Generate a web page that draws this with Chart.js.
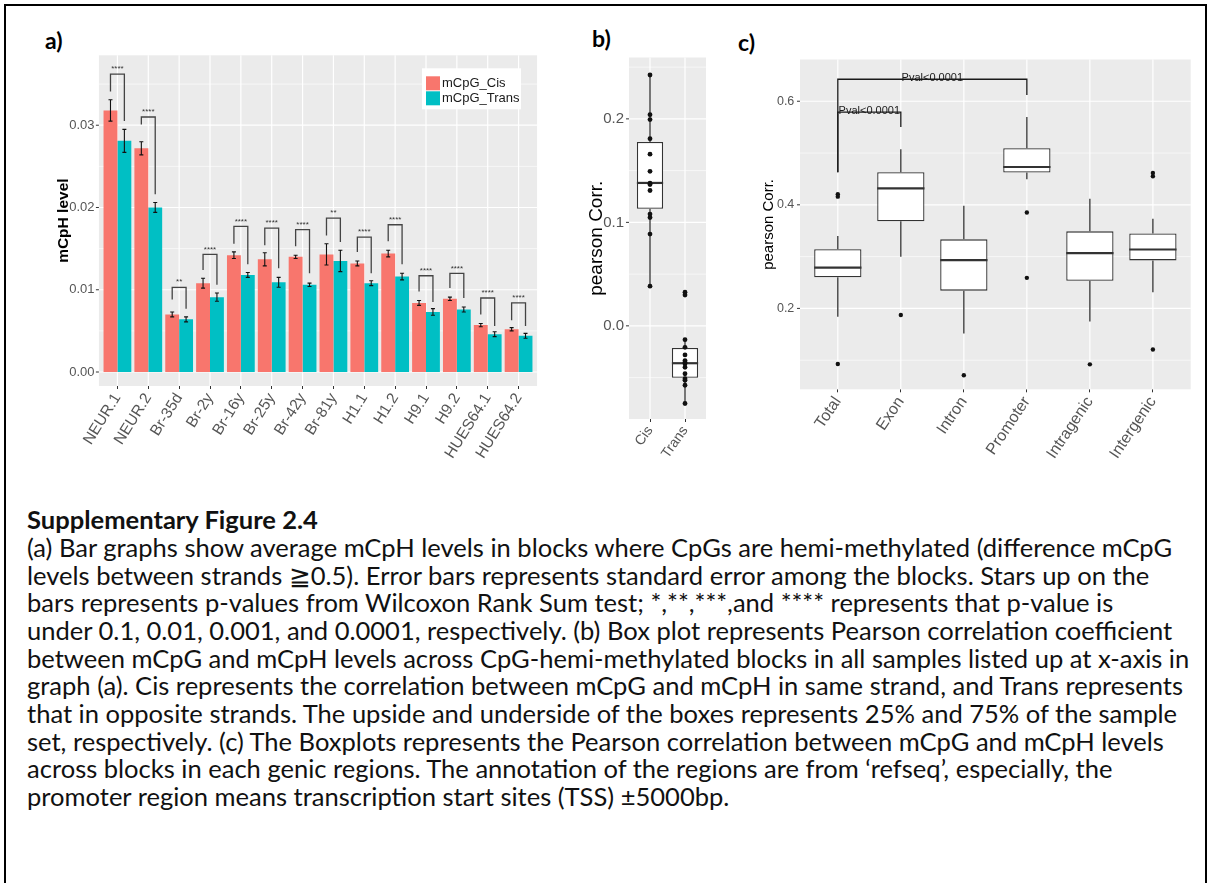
<!DOCTYPE html>
<html>
<head>
<meta charset="utf-8">
<title>Supplementary Figure 2.4</title>
<script src="https://cdn.jsdelivr.net/npm/chart.js@4.4.0/dist/chart.umd.min.js"></script>
<style>
  html, body { margin: 0; padding: 0; background: #fff; overflow: hidden; }
  #page { position: relative; width: 1212px; height: 883px; overflow: hidden; background: #fff; }
  .rule { position: absolute; background: #000; }
  canvas { position: absolute; }
  .tag { position: absolute; font: bold 23px Lato, sans-serif; color: #000; line-height: 1; }
  .cap { position: absolute; left: 27px; white-space: nowrap; font-family: Lato, sans-serif; color: #111; }
</style>
</head>
<body>
<div id="page">
  <div class="rule" style="left:4px; top:4px; width:1203px; height:2px;"></div>
  <div class="rule" style="left:4px; top:4px; width:2px; height:879px;"></div>
  <div class="rule" style="left:1205px; top:4px; width:2px; height:879px;"></div>
  <div class="tag" style="left:45px; top:29px;">a)</div>
  <div class="tag" style="left:592px; top:27px;">b)</div>
  <div class="tag" style="left:738px; top:31px;">c)</div>
  <canvas id="barChart" width="520" height="445" style="left:40px; top:40px;"></canvas>
  <canvas id="strandChart" width="145" height="440" style="left:575px; top:40px;"></canvas>
  <canvas id="regionChart" width="460" height="445" style="left:745px; top:40px;"></canvas>
  <div id="caption"></div>
</div>
<script>
// (a) mean mCpH level per sample, with standard errors
var samples = ['NEUR.1', 'NEUR.2', 'Br-35d', 'Br-2y', 'Br-16y', 'Br-25y', 'Br-42y', 'Br-81y', 'H1.1', 'H1.2', 'H9.1', 'H9.2', 'HUES64.1', 'HUES64.2'];
var cisMean = [0.0318, 0.0272, 0.0070, 0.0108, 0.0142, 0.0137, 0.0140, 0.0143, 0.0132, 0.0144, 0.0084, 0.0089, 0.0057, 0.0052];
var cisSE = [0.0013, 0.0008, 0.0003, 0.0006, 0.0004, 0.0008, 0.0002, 0.0013, 0.0003, 0.0004, 0.0003, 0.0002, 0.0002, 0.0002];
var transMean = [0.0281, 0.0200, 0.0064, 0.0091, 0.0118, 0.0109, 0.0106, 0.0135, 0.0108, 0.0116, 0.0073, 0.0076, 0.0046, 0.0044];
var transSE = [0.0014, 0.0006, 0.0003, 0.0005, 0.0003, 0.0006, 0.0002, 0.0013, 0.0003, 0.0004, 0.0004, 0.0003, 0.0003, 0.0003];
// significance brackets: stars, bracket height, left and right leg ends
var sigStars = ['****', '****', '**', '****', '****', '****', '****', '**', '****', '****', '****', '****', '****', '****'];
var sigTop = [0.0362, 0.0310, 0.0103, 0.0143, 0.0177, 0.0175, 0.0173, 0.0187, 0.0164, 0.0179, 0.0117, 0.0120, 0.0090, 0.0084];
var sigLeftEnd = [0.0341, 0.0301, 0.0088, 0.0124, 0.0156, 0.0154, 0.0153, 0.0166, 0.0146, 0.0159, 0.0098, 0.0102, 0.0070, 0.0063];
var sigRightEnd = [0.0305, 0.0216, 0.0077, 0.0106, 0.0131, 0.0126, 0.0120, 0.0158, 0.0120, 0.0131, 0.0085, 0.0090, 0.0056, 0.0056];
var levelBreaks = [0, 0.01, 0.02, 0.03];
var levelMinor = [0.005, 0.015, 0.025, 0.035];

// (b) pearson correlation per sample, same strand vs opposite strand
var strands = ['Cis', 'Trans'];
var strandLow = [0.0383, -0.0749];
var strandQ1 = [0.1132, -0.0501];
var strandMedian = [0.1381, -0.0361];
var strandQ3 = [0.1777, -0.0213];
var strandHigh = [0.2424, -0.0134];
var cisCorr = [0.2424, 0.2041, 0.1993, 0.1809, 0.1659, 0.1493, 0.1378, 0.1365, 0.1308, 0.1080, 0.1047, 0.0887, 0.0383];
var transCorr = [0.0325, 0.0298, -0.0134, -0.0207, -0.0281, -0.0335, -0.0351, -0.0367, -0.0400, -0.0463, -0.0511, -0.0526, -0.0574, -0.0750];
var strandBreaks = [0.0, 0.1, 0.2];
var strandMinor = [-0.05, 0.05, 0.15, 0.25];

// (c) pearson correlation per genic region
var regions = ['Total', 'Exon', 'Intron', 'Promoter', 'Intragenic', 'Intergenic'];
var regionLow = [0.184, 0.2996, 0.1516, 0.4495, 0.1745, 0.2311];
var regionQ1 = [0.2602, 0.3682, 0.2343, 0.4622, 0.2533, 0.2927];
var regionMedian = [0.2787, 0.4317, 0.2933, 0.4730, 0.3067, 0.3137];
var regionQ3 = [0.3143, 0.4629, 0.3333, 0.5092, 0.3488, 0.3448];
var regionHigh = [0.3396, 0.5074, 0.3981, 0.5695, 0.4116, 0.3733];
var regionOutliers = [[0.4203, 0.4158, 0.0926], [0.1872], [0.0710], [0.3853, 0.2590], [0.0920], [0.4616, 0.4552, 0.1206]];
var pvalPairs = [['Total', 'Exon'], ['Total', 'Promoter']];
var pvalTop = [0.579, 0.6425];
var pvalLeftEnd = [0.463, 0.463];
var pvalRightEnd = [0.5505, 0.612];
var pvalText = ['Pval<0.0001', 'Pval<0.0001'];
var regionBreaks = [0.2, 0.4, 0.6];
var regionMinor = [0.1, 0.3, 0.5];

var captionHead = 'Supplementary Figure 2.4';
var captionLines = [
    '(a) Bar graphs show average mCpH levels in blocks where CpGs are hemi-methylated (difference mCpG',
    'levels between strands \u22670.5). Error bars represents standard error among the blocks. Stars up on the',
    'bars represents p-values from Wilcoxon Rank Sum test; *,**,***,and **** represents that p-value is',
    'under 0.1, 0.01, 0.001, and 0.0001, respectively. (b) Box plot represents Pearson correlation coefficient',
    'between mCpG and mCpH levels across CpG-hemi-methylated blocks in all samples listed up at x-axis in',
    'graph (a). Cis represents the correlation between mCpG and mCpH in same strand, and Trans represents',
    'that in opposite strands. The upside and underside of the boxes represents 25% and 75% of the sample',
    'set, respectively. (c) The Boxplots represents the Pearson correlation between mCpG and mCpH levels',
    'across blocks in each genic regions. The annotation of the regions are from \u2018refseq\u2019, especially, the',
    'promoter region means transcription start sites (TSS) \u00b15000bp.'
];

var FONT = "'Liberation Sans', Arial, sans-serif";
Chart.defaults.font.family = FONT;
Chart.defaults.animation = false;
Chart.defaults.events = [];
Chart.defaults.plugins.legend.display = false;
Chart.defaults.plugins.tooltip.enabled = false;

// grey panel with white grid, ggplot style; the panel reaches 0.6 of a category past the outer ones
function ggPanel(minorBreaks) {
    return {
        id: 'ggPanel',
        beforeDatasetsDraw: function (chart) {
            var ctx = chart.ctx, area = chart.chartArea, x = chart.scales.x, y = chart.scales.y;
            var ext = 0.1 * (x.getPixelForValue(1) - x.getPixelForValue(0));
            var left = area.left - ext, right = area.right + ext;
            function hline(py) { ctx.beginPath(); ctx.moveTo(left, py); ctx.lineTo(right, py); ctx.stroke(); }
            ctx.save();
            ctx.fillStyle = '#EBEBEB';
            ctx.fillRect(left, area.top, right - left, area.bottom - area.top);
            ctx.strokeStyle = '#FFFFFF';
            ctx.lineWidth = 0.6;
            minorBreaks.forEach(function (v) { hline(y.getPixelForValue(v)); });
            ctx.lineWidth = 1.2;
            y.ticks.forEach(function (t) { hline(y.getPixelForValue(t.value)); });
            x.ticks.forEach(function (t, i) {
                var px = x.getPixelForTick(i);
                ctx.beginPath(); ctx.moveTo(px, area.top); ctx.lineTo(px, area.bottom); ctx.stroke();
            });
            ctx.strokeStyle = '#333333';
            ctx.lineWidth = 1;
            y.ticks.forEach(function (t) {
                var py = y.getPixelForValue(t.value);
                ctx.beginPath(); ctx.moveTo(left - 3, py); ctx.lineTo(left, py); ctx.stroke();
            });
            ctx.restore();
        }
    };
}

// whiskers and median line on top of the floating-bar boxes (dataset 0)
function boxParts(lows, medians, highs) {
    return {
        id: 'boxParts',
        afterDatasetDraw: function (chart, args) {
            if (args.index !== 0) return;
            var ctx = chart.ctx, y = chart.scales.y;
            ctx.save();
            ctx.strokeStyle = '#333333';
            args.meta.data.forEach(function (bar, i) {
                var top = Math.min(bar.y, bar.base), bottom = Math.max(bar.y, bar.base);
                var half = bar.width / 2;
                ctx.lineWidth = 1.3;
                ctx.beginPath();
                ctx.moveTo(bar.x, y.getPixelForValue(highs[i])); ctx.lineTo(bar.x, top);
                ctx.moveTo(bar.x, bottom); ctx.lineTo(bar.x, y.getPixelForValue(lows[i]));
                ctx.stroke();
                ctx.lineWidth = 2.2;
                ctx.beginPath();
                var my = y.getPixelForValue(medians[i]);
                ctx.moveTo(bar.x - half, my); ctx.lineTo(bar.x + half, my);
                ctx.stroke();
            });
            ctx.restore();
        }
    };
}

function yAxis(min, max, breaks, digits, tickSize, pad, title, titleSize, titleWeight, width) {
    return {
        min: min,
        max: max,
        grid: { display: false, drawTicks: false },
        border: { display: false },
        afterBuildTicks: function (s) { s.ticks = breaks.map(function (v) { return { value: v }; }); },
        ticks: {
            callback: function (v) { return v.toFixed(digits); },
            font: { size: tickSize },
            color: '#555555',
            padding: pad
        },
        title: {
            display: true,
            text: title,
            color: '#000000',
            font: { size: titleSize, weight: titleWeight },
            padding: { top: 4, bottom: 4 }
        },
        afterFit: function (s) { s.width = width; }
    };
}

function xAxis(labelSize, rotation, height) {
    return {
        offset: true,
        grid: { display: true, offset: false, drawOnChartArea: false, drawTicks: true, tickLength: 3, tickColor: '#333333' },
        border: { display: false },
        ticks: {
            font: { size: labelSize },
            color: '#555555',
            autoSkip: false,
            minRotation: rotation,
            maxRotation: rotation,
            padding: 1
        },
        afterFit: function (s) { s.height = height; }
    };
}

// (a) error bars
var errorBars = {
    id: 'errorBars',
    afterDatasetsDraw: function (chart) {
        var ctx = chart.ctx, y = chart.scales.y;
        ctx.save();
        ctx.strokeStyle = '#111111';
        ctx.lineWidth = 1.1;
        [cisSE, transSE].forEach(function (se, d) {
            var means = chart.data.datasets[d].data;
            chart.getDatasetMeta(d).data.forEach(function (bar, i) {
                var hi = y.getPixelForValue(means[i] + se[i]);
                var lo = y.getPixelForValue(means[i] - se[i]);
                ctx.beginPath();
                ctx.moveTo(bar.x, hi); ctx.lineTo(bar.x, lo);
                ctx.moveTo(bar.x - 2, hi); ctx.lineTo(bar.x + 2, hi);
                ctx.moveTo(bar.x - 2, lo); ctx.lineTo(bar.x + 2, lo);
                ctx.stroke();
            });
        });
        ctx.restore();
    }
};

// (a) Wilcoxon brackets between the two bars of each sample
var sigBrackets = {
    id: 'sigBrackets',
    afterDatasetsDraw: function (chart) {
        var ctx = chart.ctx, y = chart.scales.y;
        var cisBars = chart.getDatasetMeta(0).data, transBars = chart.getDatasetMeta(1).data;
        ctx.save();
        ctx.strokeStyle = '#444444';
        ctx.fillStyle = '#333333';
        ctx.lineWidth = 1.3;
        ctx.font = '8px ' + FONT;
        ctx.textAlign = 'center';
        ctx.textBaseline = 'bottom';
        samples.forEach(function (s, i) {
            var xl = cisBars[i].x, xr = transBars[i].x, top = y.getPixelForValue(sigTop[i]);
            ctx.beginPath();
            ctx.moveTo(xl, y.getPixelForValue(sigLeftEnd[i]));
            ctx.lineTo(xl, top);
            ctx.lineTo(xr, top);
            ctx.lineTo(xr, y.getPixelForValue(sigRightEnd[i]));
            ctx.stroke();
            ctx.fillText(sigStars[i], (xl + xr) / 2, top - 1);
        });
        ctx.restore();
    }
};

// (a) legend sitting inside the panel, top right
var insetLegend = {
    id: 'insetLegend',
    afterDraw: function (chart) {
        var ctx = chart.ctx, area = chart.chartArea;
        var left = area.right - 112, top = area.top + 13;
        ctx.save();
        ctx.fillStyle = '#FFFFFF';
        ctx.fillRect(left, top, 99, 41);
        ctx.font = '13px ' + FONT;
        ctx.textAlign = 'left';
        ctx.textBaseline = 'middle';
        chart.data.datasets.forEach(function (ds, k) {
            ctx.fillStyle = ds.backgroundColor;
            ctx.fillRect(left + 4, top + 8 + k * 15, 14, 14);
            ctx.fillStyle = '#1A1A1A';
            ctx.fillText(ds.label, left + 20, top + 15.5 + k * 15);
        });
        ctx.restore();
    }
};

// (c) p-value brackets
var pvalBrackets = {
    id: 'pvalBrackets',
    afterDatasetsDraw: function (chart) {
        var ctx = chart.ctx, x = chart.scales.x, y = chart.scales.y;
        ctx.save();
        ctx.strokeStyle = '#1A1A1A';
        ctx.fillStyle = '#1A1A1A';
        ctx.lineWidth = 1.3;
        ctx.font = '11px ' + FONT;
        ctx.textAlign = 'center';
        ctx.textBaseline = 'alphabetic';
        pvalPairs.forEach(function (pair, k) {
            var xa = x.getPixelForValue(regions.indexOf(pair[0]));
            var xb = x.getPixelForValue(regions.indexOf(pair[1]));
            var top = y.getPixelForValue(pvalTop[k]);
            ctx.beginPath();
            ctx.moveTo(xa, y.getPixelForValue(pvalLeftEnd[k]));
            ctx.lineTo(xa, top);
            ctx.lineTo(xb, top);
            ctx.lineTo(xb, y.getPixelForValue(pvalRightEnd[k]));
            ctx.stroke();
            ctx.fillText(pvalText[k], (xa + xb) / 2, top + 1.5);
        });
        ctx.restore();
    }
};

new Chart(document.getElementById('barChart'), {
    type: 'bar',
    data: {
        labels: samples,
        datasets: [
            { label: 'mCpG_Cis', data: cisMean, backgroundColor: '#F8766D', categoryPercentage: 0.9, barPercentage: 1.0 },
            { label: 'mCpG_Trans', data: transMean, backgroundColor: '#00BFC4', categoryPercentage: 0.9, barPercentage: 1.0 }
        ]
    },
    options: {
        responsive: false,
        layout: { padding: { left: 10.5, top: 14, right: 26, bottom: 0 } },
        scales: {
            x: xAxis(15.5, 58, 99),
            y: yAxis(-0.0017, 0.0385, levelBreaks, 2, 13, 7.5, 'mCpH level', 15.5, 'bold', 51.5)
        }
    },
    plugins: [ggPanel(levelMinor), errorBars, sigBrackets, insetLegend]
});

var strandPoints = cisCorr.map(function (v) { return { x: 'Cis', y: v }; })
    .concat(transCorr.map(function (v) { return { x: 'Trans', y: v }; }));

new Chart(document.getElementById('strandChart'), {
    type: 'bar',
    data: {
        labels: strands,
        datasets: [
            {
                data: strandQ1.map(function (q, i) { return [q, strandQ3[i]]; }),
                backgroundColor: '#FFFFFF', borderColor: '#333333', borderWidth: 1.3, borderSkipped: false,
                barPercentage: 0.75, categoryPercentage: 1.0, order: 2
            },
            {
                type: 'line', data: strandPoints, showLine: false,
                pointRadius: 2.4, pointBackgroundColor: '#111111', pointBorderWidth: 0, order: 1
            }
        ]
    },
    options: {
        responsive: false,
        layout: { padding: { left: 6.6, top: 14, right: 17.5, bottom: 0 } },
        scales: {
            x: xAxis(14, 55, 61),
            y: yAxis(-0.090, 0.2593, strandBreaks, 1, 15, 8.5, 'pearson Corr.', 19, 'normal', 50.9)
        }
    },
    plugins: [ggPanel(strandMinor), boxParts(strandLow, strandMedian, strandHigh)]
});

var outlierPoints = [];
regions.forEach(function (r, i) {
    regionOutliers[i].forEach(function (v) { outlierPoints.push({ x: r, y: v }); });
});

new Chart(document.getElementById('regionChart'), {
    type: 'bar',
    data: {
        labels: regions,
        datasets: [
            {
                data: regionQ1.map(function (q, i) { return [q, regionQ3[i]]; }),
                backgroundColor: '#FFFFFF', borderColor: '#333333', borderWidth: 1.3, borderSkipped: false,
                barPercentage: 0.75, categoryPercentage: 1.0, order: 2
            },
            {
                type: 'line', data: outlierPoints, showLine: false,
                pointRadius: 2.2, pointBackgroundColor: '#111111', pointBorderWidth: 0, order: 1
            }
        ]
    },
    options: {
        responsive: false,
        layout: { padding: { left: 11, top: 15, right: 20.6, bottom: 0 } },
        scales: {
            x: xAxis(16, 56, 95.7),
            y: yAxis(0.0438, 0.6806, regionBreaks, 1, 12.5, 12, 'pearson Corr.', 15, 'normal', 50.3)
        }
    },
    plugins: [ggPanel(regionMinor), boxParts(regionLow, regionMedian, regionHigh), pvalBrackets]
});

// caption: font size chosen so the widest line spans the text block
(function () {
    var box = document.getElementById('caption');
    var probe = document.createElement('canvas').getContext('2d');
    probe.font = '20px Lato';
    var widest = 0;
    captionLines.forEach(function (t) { widest = Math.max(widest, probe.measureText(t).width); });
    var size = 20 * 1163 / widest;
    var pitch = 27.7, firstCentre = 520;
    [captionHead].concat(captionLines).forEach(function (t, i) {
        var d = document.createElement('div');
        d.className = 'cap';
        d.textContent = t;
        d.style.fontSize = size + 'px';
        d.style.lineHeight = pitch + 'px';
        d.style.top = (firstCentre + i * pitch - pitch / 2) + 'px';
        if (i === 0) d.style.fontWeight = 'bold';
        box.appendChild(d);
    });
})();
</script>
</body>
</html>
